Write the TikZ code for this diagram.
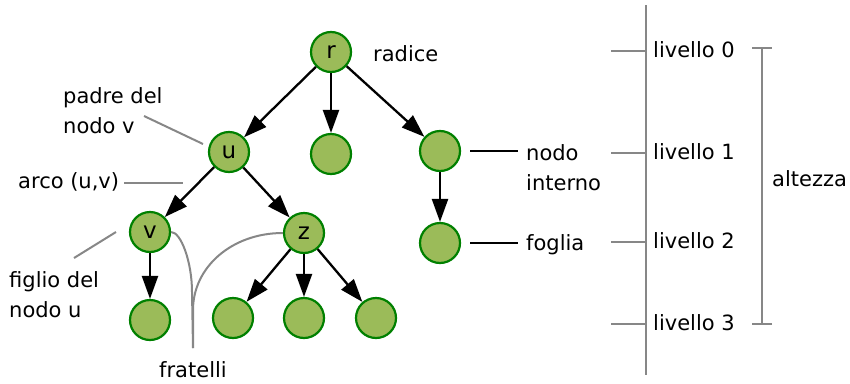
\documentclass[tikz,border=0pt]{standalone}
\usepackage{fontspec}
\setmainfont{DejaVu Sans}
\usepackage{xcolor}
\usetikzlibrary{arrows.meta}

\definecolor{leafgreen}{RGB}{155,187,89}
\definecolor{rimgreen}{RGB}{0,128,0}

\begin{document}
\begin{tikzpicture}[x=1pt,y=-1pt,
  vtx/.style={circle,draw=rimgreen,fill=leafgreen,line width=2.2pt,
              minimum size=40pt,inner sep=0pt,font=\fontsize{23}{23}\selectfont},
  arr/.style={-{Triangle[length=23pt,width=16pt]},line width=2.3pt},
  pointer/.style={draw=black!47,line width=2pt},
  lbl/.style={anchor=base west,inner sep=0pt,align=left,
              font=\fontsize{21}{30}\selectfont}]
  \useasboundingbox (0,0) rectangle (850,383);

  % the tree
  \node[vtx] (r) at (331,52) {r};
  \node[vtx] (u) at (229,152) {u};
  \node[vtx] (m) at (331,154) {};
  \node[vtx] (i) at (440,151) {};
  \node[vtx] (v) at (150,232) {v};
  \node[vtx] (z) at (304,233) {z};
  \node[vtx] (f) at (440,243) {};
  \node[vtx] (v1) at (150,320) {};
  \node[vtx] (z1) at (233,318) {};
  \node[vtx] (z2) at (304,318) {};
  \node[vtx] (z3) at (376,318) {};
  \foreach \a/\b in {r/u,r/m,r/i,u/v,u/z,i/f,v/v1,z/z1,z/z2,z/z3}
    \draw[arr] (\a) -- (\b);

  % names of the parts (base = last line)
  \node[lbl] (radice) at (373,61) {radice};
  \node[lbl] (padre) at (63,133) {padre del\\nodo v};
  \node[lbl] (arco) at (18,188) {arco (u,v)};
  \node[lbl] (figlio) at (9,317) {figlio del\\nodo u};
  \node[lbl] (interno) at (526,190) {nodo\\interno};
  \node[lbl] (foglia) at (526,250) {foglia};
  \node[lbl,anchor=base] (fratelli) at (193,377) {fratelli};

  \coordinate (pv1) at (144,116);
  \coordinate (pv2) at (203,144);
  \coordinate (ar1) at (124,183);
  \coordinate (ar2) at (183,183);
  \coordinate (fg1) at (74,258);
  \coordinate (fg2) at (116,232);
  \coordinate (fr) at (193,348);
  \draw[pointer] (pv1) -- (pv2);
  \draw[pointer] (ar1) -- (ar2);
  \draw[pointer] (fg1) -- (fg2);
  \draw[pointer] (v.east) .. controls (181,232) and (192,262) .. (192,292) -- (fr);
  \draw[pointer] (z.west) .. controls (232,233) and (193,267) .. (193,310) -- (fr);
  \draw[line width=2pt] ([xshift=9pt]i.east) -- ([xshift=-8pt]i.east -| interno.west);
  \draw[line width=2pt] ([xshift=9pt]f.east) -- ([xshift=-8pt]f.east -| foglia.west);

  % levels and height
  \coordinate (top) at (646,5);
  \coordinate (bot) at (646,375);
  \draw[pointer] (top) -- (bot);
  \foreach \k/\y in {0/51,1/153,2/242,3/324} {
    \coordinate (t\k) at (611,\y);
    \draw[pointer] (t\k) -- (t\k -| top);
    \node[lbl] (lv\k) at (653,\y+6) {livello \k};
  }
  \coordinate (h0) at (762,47);
  \coordinate (h3) at (762,325);
  \draw[pointer,{Bar[width=20pt]}-{Bar[width=20pt]}] (h0) -- (h3);
  \node[lbl] (altezza) at (772,186) {altezza};
\end{tikzpicture}
\end{document}
